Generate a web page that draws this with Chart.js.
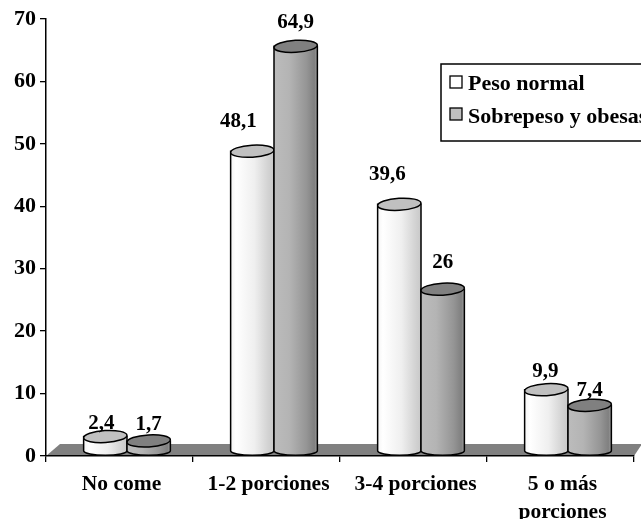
<!DOCTYPE html>
<html>
<head>
<meta charset="utf-8">
<style>
  html, body { margin: 0; padding: 0; background: #fff; overflow: hidden; }
  #wrap { width: 641px; height: 519px; }
</style>
<script src="https://cdn.jsdelivr.net/npm/chart.js@4"></script>
</head>
<body>
<div id="wrap"><canvas id="myChart" width="641" height="519"></canvas></div>
<script>
var categorias = ['No come', '1-2 porciones', '3-4 porciones', ['5 o más', 'porciones']];
var pesoNormal = [2.4, 48.1, 39.6, 9.9];
var sobrepeso = [1.7, 64.9, 26, 7.4];
var yTicks = [0, 10, 20, 30, 40, 50, 60, 70];

var fuente = '"Liberation Serif", "Times New Roman", serif';
// desplazamiento del efecto 3D
var dx3d = 7.5;
var dy3d = -4.5;
var ry = 6;

// ajuste a mano de las etiquetas de valor [x, y desde el tope]
var nudgeNormal = [[-4, 17], [-14, 34], [-12, 34], [-1, 23]];
var nudgeSobre = [[0, 21], [0, 28], [0, 31], [0, 19]];

var colores = [
  { stops: [[0, '#f4f4f4'], [0.12, '#ffffff'], [0.55, '#efefef'], [0.85, '#d4d4d4'], [1, '#c8c8c8']], tapa: '#c0c0c0' },
  { stops: [[0, '#bcbcbc'], [0.35, '#b4b4b4'], [0.75, '#959595'], [0.93, '#808080'], [1, '#a0a0a0']], tapa: '#808080' }
];

function cilindro(ctx, el, estilo) {
  var x = el.x + dx3d;
  var top = el.y + dy3d;
  var base = el.base + dy3d;
  var r = el.width / 2;

  var g = ctx.createLinearGradient(x - r, 0, x + r, 0);
  estilo.stops.forEach(function (s) { g.addColorStop(s[0], s[1]); });

  ctx.beginPath();
  ctx.moveTo(x - r, top);
  ctx.lineTo(x - r, base);
  ctx.ellipse(x, base, r, ry - 1.5, 0, Math.PI, 0, true);
  ctx.lineTo(x + r, top);
  ctx.closePath();
  ctx.fillStyle = g;
  ctx.fill();
  ctx.lineWidth = 1.5;
  ctx.strokeStyle = '#000';
  ctx.stroke();

  ctx.beginPath();
  ctx.ellipse(x, top, r, ry, -0.06, 0, Math.PI * 2);
  ctx.fillStyle = estilo.tapa;
  ctx.fill();
  ctx.stroke();
}

var piso = {
  id: 'piso',
  beforeDraw: function (chart) {
    var ctx = chart.ctx, a = chart.chartArea;
    ctx.save();
    ctx.beginPath();
    ctx.moveTo(a.left, a.bottom);
    ctx.lineTo(a.left + 14, a.bottom - 12);
    ctx.lineTo(chart.width + 1, a.bottom - 12);
    ctx.lineTo(a.right, a.bottom);
    ctx.closePath();
    ctx.fillStyle = '#808080';
    ctx.fill();
    ctx.restore();
  }
};

var cilindros = {
  id: 'cilindros',
  afterDatasetsDraw: function (chart) {
    var ctx = chart.ctx;
    var m0 = chart.getDatasetMeta(0).data;
    var m1 = chart.getDatasetMeta(1).data;
    ctx.save();
    categorias.forEach(function (c, i) {
      cilindro(ctx, m0[i], colores[0]);
      cilindro(ctx, m1[i], colores[1]);
    });

    // etiquetas de valor
    ctx.fillStyle = '#000';
    ctx.font = 'bold 21px ' + fuente;
    ctx.textAlign = 'center';
    ctx.textBaseline = 'middle';
    categorias.forEach(function (c, i) {
      ctx.fillText(String(pesoNormal[i]).replace('.', ','), m0[i].x + dx3d + nudgeNormal[i][0], m0[i].y - nudgeNormal[i][1]);
      ctx.fillText(String(sobrepeso[i]).replace('.', ','), m1[i].x + dx3d + nudgeSobre[i][0], m1[i].y - nudgeSobre[i][1]);
    });
    ctx.restore();
  }
};

var leyenda = {
  id: 'leyenda',
  afterDraw: function (chart) {
    var ctx = chart.ctx;
    ctx.save();
    ctx.fillStyle = '#fff';
    ctx.fillRect(441, 64, 220, 77);
    ctx.lineWidth = 1.5;
    ctx.strokeStyle = '#000';
    ctx.strokeRect(441, 64, 220, 77);

    ctx.lineWidth = 1.3;
    ctx.fillStyle = '#fff';
    ctx.fillRect(450, 76, 12, 12);
    ctx.strokeRect(450, 76, 12, 12);
    ctx.fillStyle = '#c0c0c0';
    ctx.fillRect(450, 108, 12, 12);
    ctx.strokeRect(450, 108, 12, 12);

    ctx.fillStyle = '#000';
    ctx.font = 'bold 22px ' + fuente;
    ctx.textAlign = 'left';
    ctx.textBaseline = 'middle';
    ctx.fillText(chart.data.datasets[0].label, 468, 84);
    ctx.fillText(chart.data.datasets[1].label, 468, 117);
    ctx.restore();
  }
};

var ctx = document.getElementById('myChart').getContext('2d');
var myChart = new Chart(ctx, {
  type: 'bar',
  data: {
    labels: categorias,
    datasets: [
      { label: 'Peso normal', data: pesoNormal, backgroundColor: 'rgba(0,0,0,0)', categoryPercentage: 0.59, barPercentage: 1 },
      { label: 'Sobrepeso y obesas', data: sobrepeso, backgroundColor: 'rgba(0,0,0,0)', categoryPercentage: 0.59, barPercentage: 1 }
    ]
  },
  options: {
    responsive: false,
    animation: false,
    layout: { padding: { top: 19, right: 7, left: 0, bottom: 0 } },
    plugins: { legend: { display: false }, tooltip: { enabled: false } },
    scales: {
      x: {
        afterFit: function (s) { s.height = 63; },
        border: { color: '#000', width: 1.5 },
        grid: { drawOnChartArea: false, color: '#000', tickLength: 6, lineWidth: 1.3 },
        ticks: {
          color: '#000',
          padding: 9,
          labelOffset: 2,
          maxRotation: 0,
          autoSkip: false,
          font: { family: fuente, size: 21.5, weight: 'bold', lineHeight: 1.28 }
        }
      },
      y: {
        min: 0,
        max: 70,
        afterFit: function (s) { s.width = 46; },
        afterBuildTicks: function (s) { s.ticks = yTicks.map(function (v) { return { value: v }; }); },
        border: { color: '#000', width: 1.5 },
        grid: { drawOnChartArea: false, color: '#000', tickLength: 6, lineWidth: 1.3 },
        ticks: {
          color: '#000',
          padding: 4,
          font: { family: fuente, size: 22, weight: 'bold' }
        }
      }
    }
  },
  plugins: [piso, cilindros, leyenda]
});
</script>
</body>
</html>
